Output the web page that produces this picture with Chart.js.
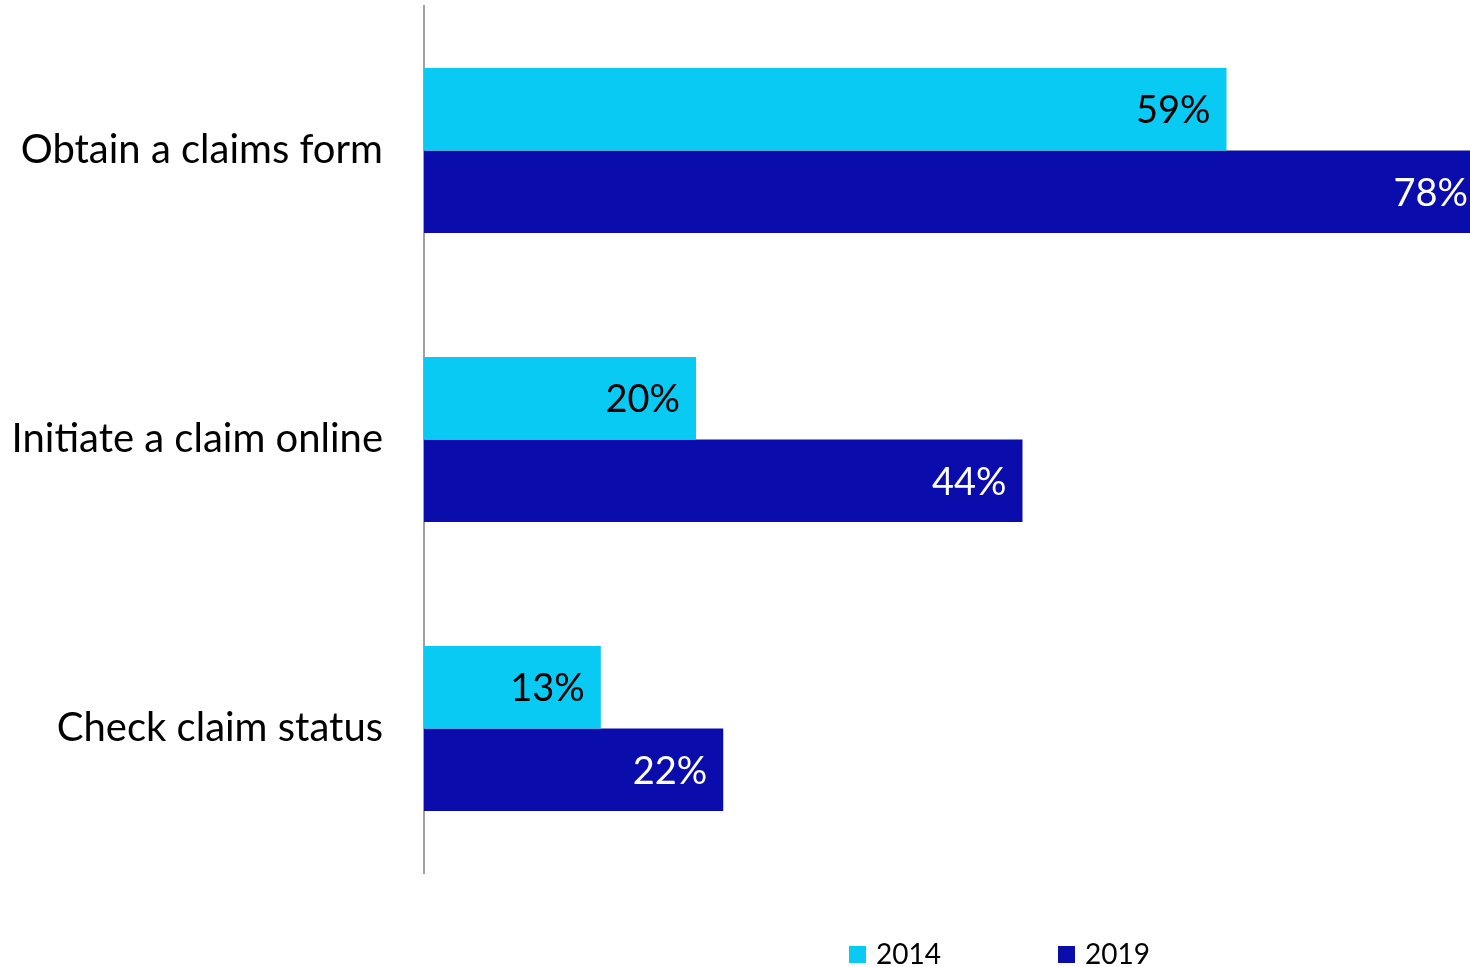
<!DOCTYPE html>
<html>
<head>
<meta charset="utf-8">
<script src="https://cdn.jsdelivr.net/npm/chart.js@4"></script>
<style>
  html, body { margin: 0; padding: 0; background: #fff; }
  #wrap { width: 1470px; height: 967px; }
</style>
</head>
<body>
<div id="wrap"><canvas id="bars"></canvas></div>
<script>
const tasks = ['Obtain a claims form', 'Initiate a claim online', 'Check claim status'];
const years = ['2014', '2019'];
const share2014 = [59, 20, 13];
const share2019 = [78, 44, 22];

const colors = ['#08CAF2', '#0A0CAC'];
const labelColors = ['#000000', '#ffffff'];
const FONT = 'Lato, "Open Sans", sans-serif';

// value labels inside the end of each bar, kept on the canvas
const barLabels = {
    id: 'barLabels',
    afterDatasetsDraw(chart) {
        const ctx = chart.ctx;
        const area = chart.chartArea;
        ctx.save();
        ctx.font = '38px ' + FONT;
        ctx.textAlign = 'right';
        ctx.textBaseline = 'middle';
        chart.data.datasets.forEach((ds, i) => {
            chart.getDatasetMeta(i).data.forEach((bar, j) => {
                const x = Math.min(bar.x - 16, area.right - 2);
                ctx.fillStyle = labelColors[i];
                ctx.fillText(ds.data[j] + '%', x, bar.y + 2);
            });
        });
        ctx.restore();
    }
};

// legend row under the plot
const bottomLegend = {
    id: 'bottomLegend',
    afterDraw(chart) {
        const ctx = chart.ctx;
        const xs = [849, 1058];
        ctx.save();
        ctx.font = '28px ' + FONT;
        ctx.textBaseline = 'middle';
        ctx.textAlign = 'left';
        chart.data.datasets.forEach((ds, i) => {
            ctx.fillStyle = ds.backgroundColor;
            ctx.fillRect(xs[i], 946, 17, 17);
            ctx.fillStyle = '#000';
            ctx.fillText(ds.label, xs[i] + 27, 955);
        });
        ctx.restore();
    }
};

new Chart(document.getElementById('bars'), {
    type: 'bar',
    data: {
        labels: tasks,
        datasets: [
            { label: years[0], data: share2014, backgroundColor: colors[0] },
            { label: years[1], data: share2019, backgroundColor: colors[1] }
        ]
    },
    options: {
        indexAxis: 'y',
        responsive: true,
        maintainAspectRatio: false,
        animation: false,
        barPercentage: 1,
        categoryPercentage: 0.571,
        layout: {
            padding: { top: 6, bottom: 94, left: 0, right: 0 }
        },
        scales: {
            x: {
                display: false,
                min: 0,
                max: 76.9
            },
            y: {
                afterFit(scale) {
                    scale.width = 424;
                    scale.paddingTop = 0;
                    scale.paddingBottom = 0;
                },
                grid: { display: false, drawTicks: false },
                border: { display: true, color: '#a0a0a0', width: 2 },
                ticks: {
                    color: '#000',
                    padding: 41,
                    font: { family: FONT, size: 40 }
                }
            }
        },
        plugins: {
            legend: { display: false },
            tooltip: { enabled: false }
        }
    },
    plugins: [barLabels, bottomLegend]
});
</script>
</body>
</html>
